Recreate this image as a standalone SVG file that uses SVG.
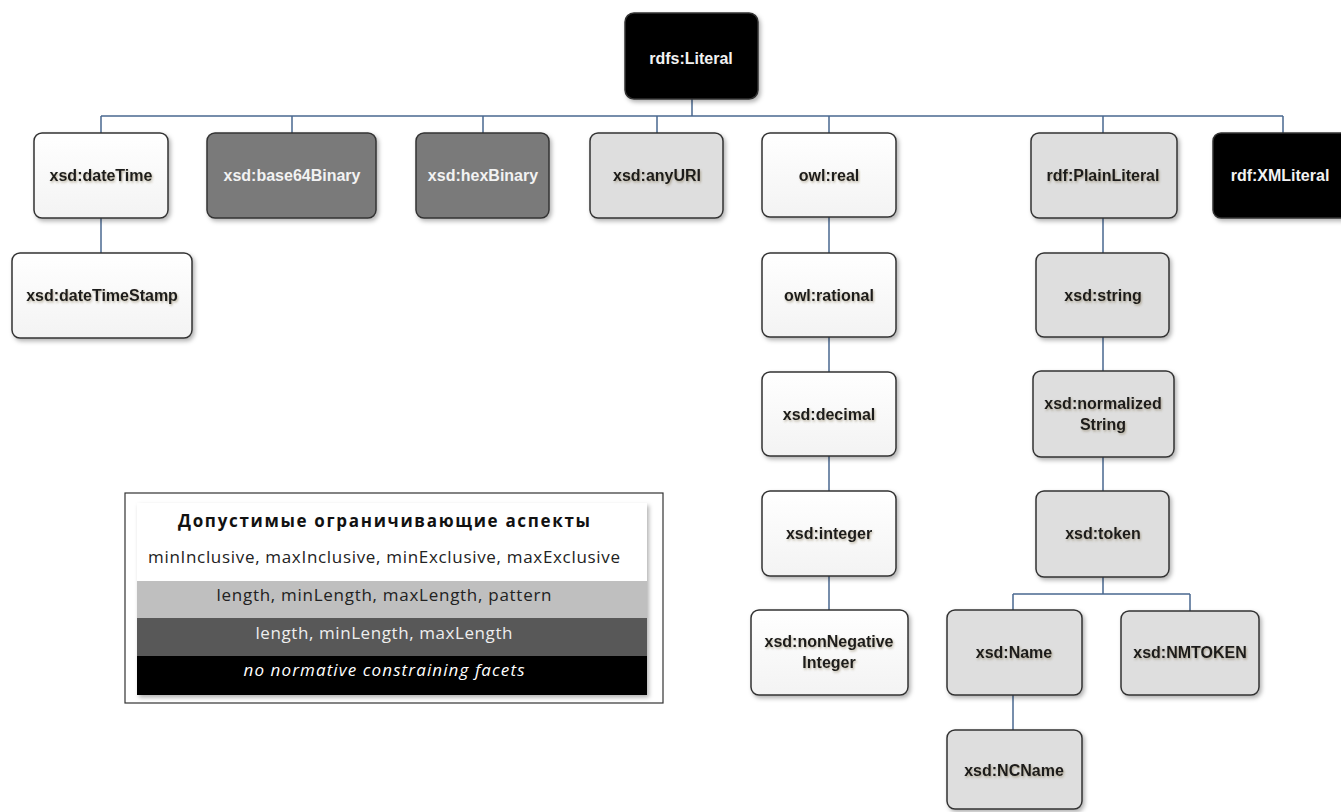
<svg xmlns="http://www.w3.org/2000/svg" width="1341" height="812" viewBox="0 0 1341 812">
<defs>
<filter id="bs" x="-10%" y="-10%" width="125%" height="130%"><feDropShadow dx="2" dy="2.5" stdDeviation="2" flood-color="#000" flood-opacity="0.3"/></filter>
<filter id="ts" x="-5%" y="-20%" width="115%" height="150%"><feDropShadow dx="1" dy="1.5" stdDeviation="1" flood-color="#6a5a30" flood-opacity="0.45"/></filter>
<linearGradient id="wg" x1="0" y1="0" x2="0" y2="1"><stop offset="0" stop-color="#ffffff"/><stop offset="1" stop-color="#f3f3f3"/></linearGradient>
</defs>
<style>
.box{stroke:#333;stroke-width:1.5;filter:url(#bs)}
.w{fill:url(#wg)}
.l{fill:#dedede}
.d{fill:#7a7a7a}
.k{fill:#000}
.t{font-family:"Liberation Sans",Arial,sans-serif;font-weight:bold;font-size:16px;text-anchor:middle;fill:#1a1a1a;filter:url(#ts)}
.tw{font-family:"Liberation Sans",Arial,sans-serif;font-weight:bold;font-size:16px;text-anchor:middle;fill:#f2f2f2}
.con{fill:none;stroke:#4a6890;stroke-width:1.5}
.lg{font-family:"Open Sans","Liberation Sans",sans-serif;font-size:17px;text-anchor:middle}
</style>
<rect width="1341" height="812" fill="#fff"/>
<g id="connectors" class="con">
<path d="M692 99V116M101 116H1283M101 116V133M292 116V133M483 116V133M657 116V133M829 116V133M1103 116V133M1283 116V133"/>
<path d="M101 218V253"/>
<path d="M829 217V253M829 337V372M829 456V491M829 576V610"/>
<path d="M1103 218V253M1103 337V371M1103 457V491M1103 577V594M1013 594H1190M1013 594V610M1190 594V611"/>
<path d="M1013 695V730"/>
</g>
<g id="n-root"><rect class="box k" x="625" y="13" width="133" height="86" rx="9"/><text class="tw" x="691" y="64">rdfs:Literal</text></g>
<g id="n-dateTime"><rect class="box w" x="34" y="133" width="134" height="85" rx="8"/><text class="t" x="101" y="181">xsd:dateTime</text></g>
<g id="n-dateTimeStamp"><rect class="box w" x="12" y="253" width="180" height="85" rx="8"/><text class="t" x="102" y="301">xsd:dateTimeStamp</text></g>
<g id="n-base64Binary"><rect class="box d" x="207" y="133" width="169" height="85" rx="8"/><text class="tw" x="292" y="181">xsd:base64Binary</text></g>
<g id="n-hexBinary"><rect class="box d" x="416" y="133" width="133" height="85" rx="8"/><text class="tw" x="483" y="181">xsd:hexBinary</text></g>
<g id="n-anyURI"><rect class="box l" x="590" y="133" width="133" height="85" rx="8"/><text class="t" x="657" y="181">xsd:anyURI</text></g>
<g id="n-real"><rect class="box w" x="762" y="133" width="134" height="84" rx="8"/><text class="t" x="829" y="181">owl:real</text></g>
<g id="n-rational"><rect class="box w" x="762" y="253" width="134" height="84" rx="8"/><text class="t" x="829" y="301">owl:rational</text></g>
<g id="n-decimal"><rect class="box w" x="762" y="372" width="134" height="84" rx="8"/><text class="t" x="829" y="420">xsd:decimal</text></g>
<g id="n-integer"><rect class="box w" x="762" y="491" width="134" height="85" rx="8"/><text class="t" x="829" y="539">xsd:integer</text></g>
<g id="n-nonNegativeInteger"><rect class="box w" x="751" y="610" width="157" height="85" rx="8"/><text class="t" x="829" y="647">xsd:nonNegative</text><text class="t" x="829" y="668">Integer</text></g>
<g id="n-PlainLiteral"><rect class="box l" x="1031" y="133" width="146" height="85" rx="8"/><text class="t" x="1103" y="181">rdf:PlainLiteral</text></g>
<g id="n-XMLiteral"><rect class="box k" x="1213" y="133" width="140" height="85" rx="8"/><text class="tw" x="1280" y="181">rdf:XMLiteral</text></g>
<g id="n-string"><rect class="box l" x="1036" y="253" width="133" height="84" rx="8"/><text class="t" x="1103" y="301">xsd:string</text></g>
<g id="n-normalizedString"><rect class="box l" x="1033" y="371" width="141" height="86" rx="8"/><text class="t" x="1103" y="409">xsd:normalized</text><text class="t" x="1103" y="430">String</text></g>
<g id="n-token"><rect class="box l" x="1036" y="491" width="133" height="86" rx="8"/><text class="t" x="1103" y="539">xsd:token</text></g>
<g id="n-Name"><rect class="box l" x="947" y="610" width="135" height="85" rx="8"/><text class="t" x="1014" y="658">xsd:Name</text></g>
<g id="n-NMTOKEN"><rect class="box l" x="1121" y="611" width="138" height="84" rx="8"/><text class="t" x="1190" y="658">xsd:NMTOKEN</text></g>
<g id="n-NCName"><rect class="box l" x="947" y="730" width="135" height="79" rx="8"/><text class="t" x="1014" y="776">xsd:NCName</text></g>
<g id="legend">
<rect x="125" y="493" width="538" height="210" fill="#fff" stroke="#333" stroke-width="1.2"/>
<g filter="url(#bs)">
<rect x="137" y="503" width="510" height="78" fill="#fff"/>
<rect x="137" y="581" width="510" height="37" fill="#bfbfbf"/>
<rect x="137" y="618" width="510" height="38" fill="#595959"/>
<rect x="137" y="656" width="510" height="39" fill="#000"/>
</g>
<text class="lg" x="384" y="527" font-size="18" font-weight="bold" fill="#111" textLength="412">Допустимые ограничивающие аспекты</text>
<text class="lg" x="384" y="563" fill="#222" textLength="472">minInclusive, maxInclusive, minExclusive, maxExclusive</text>
<text class="lg" x="384" y="601" fill="#222" textLength="335">length, minLength, maxLength, pattern</text>
<text class="lg" x="384" y="639" fill="#eee" textLength="257">length, minLength, maxLength</text>
<text class="lg" x="384" y="676" fill="#fff" font-style="italic" textLength="281">no normative constraining facets</text>
</g>
</svg>
